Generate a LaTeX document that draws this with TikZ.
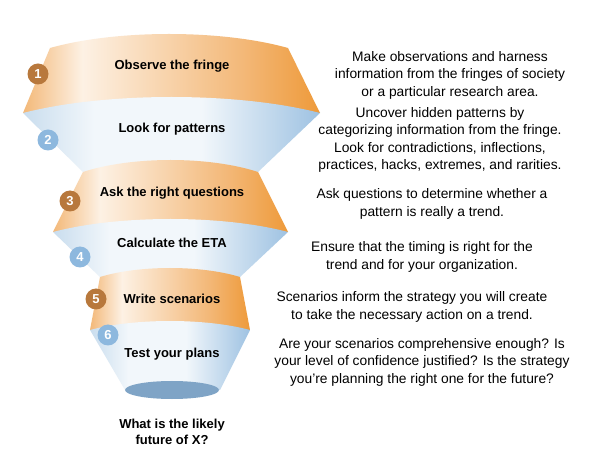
\documentclass[tikz,border=0pt]{standalone}
\usepackage{fontspec}
\usetikzlibrary{shapes.geometric}
\setmainfont{Liberation Sans}
\definecolor{oDeep}{HTML}{EE9A3A}
\definecolor{oMid}{HTML}{F3B878}
\definecolor{oLight}{HTML}{FDF1E4}
\definecolor{bDeep}{HTML}{9EC2E2}
\definecolor{bLight}{HTML}{F2F7FB}
\definecolor{bMid}{HTML}{C9DDEE}
\definecolor{oCirc}{HTML}{B8783C}
\definecolor{bCirc}{HTML}{8DB8DE}
\definecolor{ellC}{HTML}{7FA4C6}
\pgfdeclarehorizontalshading{oshade}{100bp}{color(0bp)=(oMid); color(25bp)=(oMid); color(35bp)=(oLight); color(62bp)=(oMid); color(75bp)=(oDeep); color(100bp)=(oDeep)}
\pgfdeclarehorizontalshading{bshade}{100bp}{color(0bp)=(bMid); color(25bp)=(bMid); color(37bp)=(bLight); color(55bp)=(bLight); color(75bp)=(bDeep); color(100bp)=(bDeep)}
\tikzset{
 lab/.style={font=\bfseries\fontsize{13}{15}\selectfont, inner sep=0pt},
 desc/.style={font=\fontsize{13.8}{17.5}\selectfont, align=center, inner sep=0pt},
 num/.style={circle, minimum size=21pt, inner sep=0pt, text=white, font=\bfseries\fontsize{13}{13}\selectfont},
}
\newcommand{\segm}[8]{%
 \shade[shading=#8] (#1,#3) .. controls ({#1+(#2-#1)*0.28},{#3-4/3*#4}) and ({#2-(#2-#1)*0.28},{#3-4/3*#4}) .. (#2,#3) -- (#6,#7) -- (#5,#7) -- cycle;}
\begin{document}
\begin{tikzpicture}[x=1pt,y=-1pt]
\useasboundingbox (0,0) rectangle (600,470);
\fill[white] (0,0) rectangle (600,470);
\segm{50}{288}{48}{14}{23}{320}{113}{oshade}
\segm{23}{320}{113}{16}{83}{258}{172}{bshade}
\segm{83}{258}{172}{12}{53}{288}{232}{oshade}
\segm{53}{288}{232}{13}{100}{240}{277}{bshade}
\segm{100}{240}{277}{9}{90}{250}{330}{oshade}
\segm{90}{250}{330}{9}{125}{220}{390}{bshade}
\node[ellipse, fill=ellC, minimum width=94pt, minimum height=18pt, inner sep=0pt] (e) at (172,390) {};
\node[lab] (l1) at (172,66) {Observe the fringe};
\node[lab] (l2) at (172,129) {Look for patterns};
\node[lab] (l3) at (172,193) {Ask the right questions};
\node[lab] (l4) at (172,243) {Calculate the ETA};
\node[lab] (l5) at (172,299) {Write scenarios};
\node[lab] (l6) at (172,354) {Test your plans};
\node[lab, align=center, font=\bfseries\fontsize{13}{16}\selectfont] (q) at (172,432) {What is the likely\\future of X?};
\node[num, fill=oCirc] (n1) at (38,74) {1};
\node[num, fill=bCirc] (n2) at (48,140) {2};
\node[num, fill=oCirc] (n3) at (70,201) {3};
\node[num, fill=bCirc] (n4) at (80,257) {4};
\node[num, fill=oCirc] (n5) at (96,299) {5};
\node[num, fill=bCirc] (n6) at (108,335) {6};
\node[desc] (d1) at (450,75) {Make observations and harness\\information from the fringes of society\\or a particular research area.};
\node[desc] (d2) at (440,140) {Uncover hidden patterns by\\categorizing information from the fringe.\\Look for contradictions, inflections,\\practices, hacks, extremes, and rarities.};
\node[desc] (d3) at (432,204) {Ask questions to determine whether a\\pattern is really a trend.};
\node[desc] (d4) at (422,257) {Ensure that the timing is right for the\\trend and for your organization.};
\node[desc] (d5) at (412,307) {Scenarios inform the strategy you will create\\to take the necessary action on a trend.};
\node[desc] (d6) at (422,362) {Are your scenarios comprehensive enough? Is\\your level of confidence justified? Is the strategy\\you’re planning the right one for the future?};
\end{tikzpicture}
\end{document}
